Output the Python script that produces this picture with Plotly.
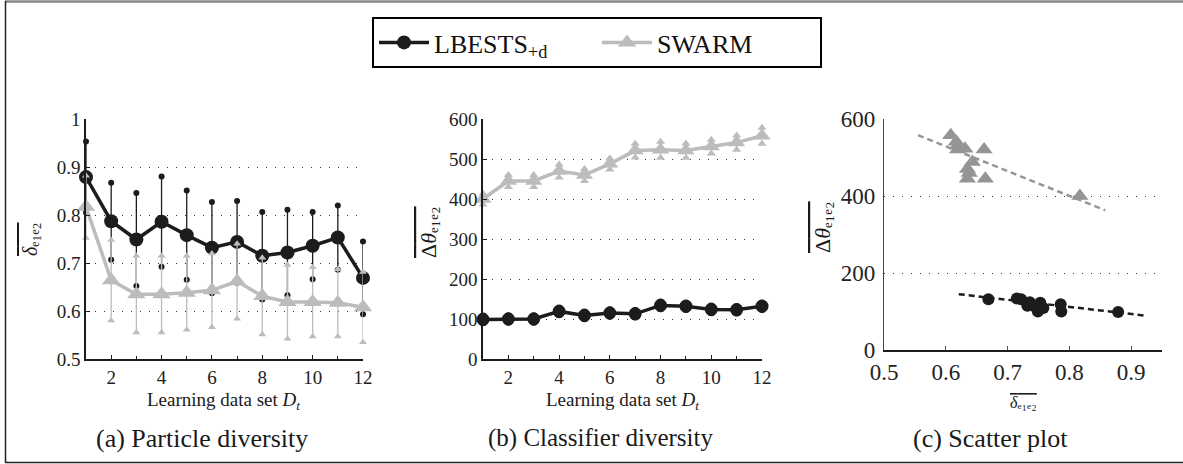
import plotly.graph_objects as go

# ---------------- data ----------------
data_sets = [1, 2, 3, 4, 5, 6, 7, 8, 9, 10, 11, 12]

# (a) particle diversity (mean and std)
lbests_delta = [0.879, 0.787, 0.749, 0.786, 0.758, 0.732, 0.744, 0.715, 0.722, 0.736, 0.753, 0.669]
lbests_delta_std = [0.074, 0.080, 0.097, 0.094, 0.093, 0.095, 0.085, 0.091, 0.089, 0.070, 0.067, 0.076]
swarm_delta = [0.817, 0.664, 0.635, 0.635, 0.638, 0.643, 0.662, 0.631, 0.619, 0.619, 0.617, 0.608]
swarm_delta_std = [0.065, 0.084, 0.080, 0.080, 0.077, 0.077, 0.078, 0.080, 0.077, 0.072, 0.070, 0.073]

# (b) classifier diversity (mean and std)
lbests_theta = [99, 100, 100, 119, 109, 115, 113, 134, 132, 124, 123, 132]
lbests_theta_std = [7, 7, 7, 7, 7, 7, 7, 7, 7, 7, 7, 7]
swarm_theta = [400, 445, 445, 470, 460, 488, 521, 523, 521, 531, 541, 558]
swarm_theta_std = [14, 15, 15, 16, 15, 14, 17, 20, 18, 17, 18, 20]

# (c) trend lines
trend_swarm_x = [0.555, 0.858]
trend_swarm_y = [558, 363]
trend_lbests_x = [0.621, 0.925]
trend_lbests_y = [145, 89]

# tick labels
ticks_a_x = [2, 4, 6, 8, 10, 12]
ticks_a_y = [0.5, 0.6, 0.7, 0.8, 0.9, 1.0]
ticks_b_y = [0, 100, 200, 300, 400, 500, 600]
ticks_c_x = [0.5, 0.6, 0.7, 0.8, 0.9]
ticks_c_y = [0, 200, 400, 600]

# ---------------- styling ----------------
W, H = 1183, 464
BLACK = "#1c1c1c"
LGRAY = "#bcbcbc"
MGRAY = "#959595"
SERIF = "Liberation Serif"


def px_x(p):
    return p / W


def px_y(p):
    return 1 - p / H


def up(vals, sd):
    return [v + s for v, s in zip(vals, sd)]


def dn(vals, sd):
    return [v - s for v, s in zip(vals, sd)]


fig = go.Figure()


def add_series(xa, ya, mean, sd, color, symbol, size, capsize, name, show):
    # error bars
    fig.add_trace(go.Scatter(x=data_sets, y=mean, xaxis=xa, yaxis=ya, mode="markers",
                             marker=dict(size=0.1, color=color, opacity=0),
                             error_y=dict(type="data", array=sd, color=color, thickness=1.3, width=0),
                             showlegend=False, hoverinfo="skip", cliponaxis=False))
    # caps
    for yy in (up(mean, sd), dn(mean, sd)):
        fig.add_trace(go.Scatter(x=data_sets, y=yy, xaxis=xa, yaxis=ya, mode="markers",
                                 marker=dict(size=capsize, color=color, symbol=symbol),
                                 showlegend=False, hoverinfo="skip", cliponaxis=False))
    # main line
    fig.add_trace(go.Scatter(x=data_sets, y=mean, xaxis=xa, yaxis=ya, mode="lines+markers",
                             line=dict(color=color, width=3.5),
                             marker=dict(size=size, color=color, symbol=symbol),
                             name=name, showlegend=show, cliponaxis=False))


sym_c = "circle"
sym_t = "triangle-up"

# panel a
add_series("x", "y", lbests_delta, lbests_delta_std, BLACK, sym_c, 14, 6, "LBESTS<sub>+d</sub>", True)
add_series("x", "y", swarm_delta, swarm_delta_std, LGRAY, sym_t, 16, 7, "SWARM", True)
# panel b
add_series("x2", "y2", lbests_theta, lbests_theta_std, BLACK, sym_c, 13, 8, "LBESTS", False)
add_series("x2", "y2", swarm_theta, swarm_theta_std, LGRAY, sym_t, 15, 8, "SWARM", False)

# panel c
fig.add_trace(go.Scatter(x=trend_swarm_x, y=trend_swarm_y, xaxis="x3", yaxis="y3", mode="lines",
                         line=dict(color=MGRAY, width=2.5, dash="6px,4px"), showlegend=False))
fig.add_trace(go.Scatter(x=trend_lbests_x, y=trend_lbests_y, xaxis="x3", yaxis="y3", mode="lines",
                         line=dict(color=BLACK, width=2.5, dash="6px,4px"), showlegend=False))
fig.add_trace(go.Scatter(x=swarm_delta, y=swarm_theta, xaxis="x3", yaxis="y3", mode="markers",
                         marker=dict(size=15, color=MGRAY, symbol=sym_t), showlegend=False))
fig.add_trace(go.Scatter(x=lbests_delta, y=lbests_theta, xaxis="x3", yaxis="y3", mode="markers",
                         marker=dict(size=12, color=BLACK, symbol=sym_c), showlegend=False))

grid = dict(showgrid=True, gridcolor="#333333", gridwidth=1, griddash="1px,8px")
tickf = dict(family=SERIF, size=19, color="#222")
tickf_c = dict(family=SERIF, size=23, color="#222")

# panel domains (pixels)
ax_a = [86, 363]
ax_b = [483, 762]
ax_c = [884, 1162]
y_ab = [359, 119]
y_c = [350, 119]

fig.update_layout(
    template="none",
    width=W, height=H, margin=dict(l=0, r=0, t=0, b=0, pad=0, autoexpand=False),
    paper_bgcolor="white", plot_bgcolor="white",
    font=dict(family=SERIF, color="#222"),
    xaxis=dict(domain=[px_x(ax_a[0]), px_x(ax_a[1])], range=[1, 12], tickvals=ticks_a_x,
               showline=True, linecolor=BLACK, linewidth=1.5, ticks="inside", ticklen=4,
               tickcolor=BLACK, minor=dict(dtick=1, tick0=1, ticks="inside", ticklen=3, tickcolor=BLACK),
               tickfont=tickf, showgrid=False, zeroline=False, anchor="y", automargin=False),
    yaxis=dict(domain=[px_y(y_ab[0]), px_y(y_ab[1])], range=[0.5, 1.0], tickvals=ticks_a_y,
               ticktext=["0.5", "0.6", "0.7", "0.8", "0.9", "1"],
               showline=True, linecolor=BLACK, linewidth=1.5, ticks="inside", ticklen=4,
               tickcolor=BLACK, tickfont=tickf, zeroline=False, anchor="x", automargin=False, **grid),
    xaxis2=dict(domain=[px_x(ax_b[0]), px_x(ax_b[1])], range=[1, 12], tickvals=ticks_a_x,
                showline=True, linecolor=BLACK, linewidth=1.5, ticks="inside", ticklen=4,
                tickcolor=BLACK, minor=dict(dtick=1, tick0=1, ticks="inside", ticklen=3, tickcolor=BLACK),
                tickfont=tickf, showgrid=False, zeroline=False, anchor="y2", automargin=False),
    yaxis2=dict(domain=[px_y(y_ab[0]), px_y(y_ab[1])], range=[0, 600], tickvals=ticks_b_y,
                showline=True, linecolor=BLACK, linewidth=1.5, ticks="inside", ticklen=4,
                tickcolor=BLACK, tickfont=tickf, zeroline=False, anchor="x2", automargin=False, **grid),
    xaxis3=dict(domain=[px_x(ax_c[0]), px_x(ax_c[1])], range=[0.5, 0.95], tickvals=ticks_c_x,
                ticktext=["0.5", "0.6", "0.7", "0.8", "0.9"],
                showline=True, linecolor=BLACK, linewidth=2, ticks="inside", ticklen=4,
                tickcolor="#555", tickfont=tickf_c,
                showgrid=False, zeroline=False, anchor="y3", automargin=False),
    yaxis3=dict(domain=[px_y(y_c[0]), px_y(y_c[1])], range=[0, 600], tickvals=ticks_c_y,
                showline=True, linecolor="#444", linewidth=1.2, ticks="", ticklabelstandoff=3,
                tickfont=tickf_c, zeroline=False, anchor="x3",
                automargin=False, **grid),
    legend=dict(orientation="h", x=px_x(597), xanchor="center", y=px_y(17), yanchor="top",
                bordercolor="black", borderwidth=2, bgcolor="white",
                font=dict(family=SERIF, size=26, color="#111"), entrywidth=158, itemwidth=50,
                tracegroupgap=0),
    showlegend=True,
)

OVL = "<span style='text-decoration:overline'>{}</span>"
delta_lab = OVL.format("<i>δ</i>ₑ₁ₑ₂")
theta_lab = OVL.format("Δ<i>θ</i>ₑ₁ₑ₂")
xlab = "Learning data set <i>D</i><sub><i>t</i></sub>"

annots = [
    # y titles
    dict(x=px_x(30), y=px_y(239), text=delta_lab, textangle=-90, font=dict(size=20)),
    dict(x=px_x(428), y=px_y(232), text=theta_lab, textangle=-90, font=dict(size=22)),
    dict(x=px_x(822), y=px_y(227), text=theta_lab, textangle=-90, font=dict(size=22)),
    # x titles
    dict(x=px_x(223), y=px_y(401), text=xlab, font=dict(size=19)),
    dict(x=px_x(622), y=px_y(401), text=xlab, font=dict(size=19)),
    dict(x=px_x(1023), y=px_y(402), text=delta_lab, font=dict(size=16)),
    # captions
    dict(x=px_x(202), y=px_y(438), text="(a) Particle diversity", font=dict(size=26)),
    dict(x=px_x(601), y=px_y(438), text="(b) Classifier diversity", font=dict(size=25)),
    dict(x=px_x(990), y=px_y(438), text="(c) Scatter plot", font=dict(size=26)),
]
for a in annots:
    a.update(xref="paper", yref="paper", showarrow=False, xanchor="center", yanchor="middle")
    a["font"] = dict(family=SERIF, color="#1a1a1a", **a["font"])
    fig.add_annotation(**a)

# outer frame
fig.add_shape(type="line", xref="paper", yref="paper", x0=px_x(5), x1=1, y0=px_y(1.5), y1=px_y(1.5),
              line=dict(color="#888", width=2.5))
fig.add_shape(type="line", xref="paper", yref="paper", x0=px_x(5.5), x1=px_x(5.5), y0=px_y(1), y1=px_y(463),
              line=dict(color="#222", width=1.5))
fig.add_shape(type="line", xref="paper", yref="paper", x0=px_x(5), x1=1, y0=px_y(462.5), y1=px_y(462.5),
              line=dict(color="#222", width=1.5))

fig.write_html("out.html", config={"displayModeBar": False},
               post_script="document.body.style.margin='0';document.body.style.overflow='hidden';")
